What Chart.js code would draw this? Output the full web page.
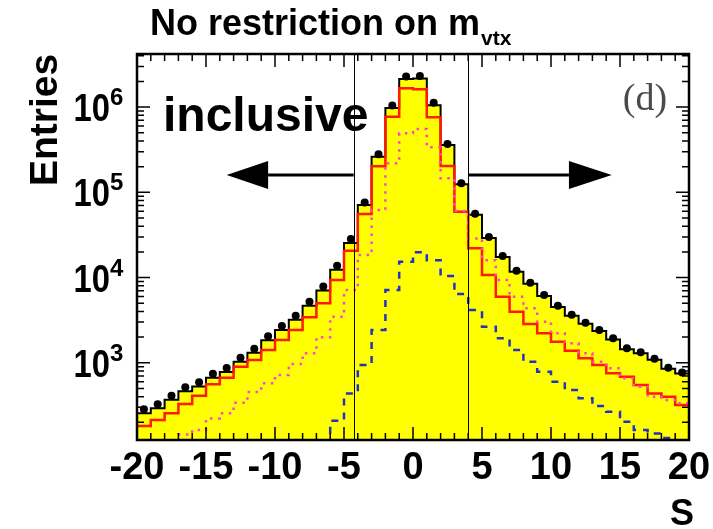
<!DOCTYPE html>
<html>
<head>
<meta charset="utf-8">
<script src="https://cdn.jsdelivr.net/npm/chart.js@4.4.1/dist/chart.umd.min.js"></script>
<style>
  html, body { margin: 0; padding: 0; background: #fff; }
  #wrap { width: 713px; height: 529px; }
</style>
</head>
<body>
<div id="wrap"><canvas id="sChart" width="713" height="529"></canvas></div>
<script>
// lower edges of the 1-unit S bins
const binLow = [-20, -19, -18, -17, -16, -15, -14, -13, -12, -11,
                -10, -9, -8, -7, -6, -5, -4, -3, -2, -1,
                0, 1, 2, 3, 4, 5, 6, 7, 8, 9,
                10, 11, 12, 13, 14, 15, 16, 17, 18, 19];

// measured entries (black points)
const dataEntries = [284, 326, 410, 515, 589, 745, 869, 1145, 1460, 2047,
                     2697, 3562, 5200, 7840, 13750, 28300, 75900, 280000, 1045000, 2290000,
                     2320000, 1127000, 369000, 127600, 56100, 29900, 17900, 12020, 8690, 6230,
                     4650, 3660, 2950, 2420, 1933, 1476, 1328, 1111, 874, 767];

// simulation, total (yellow)
const mcTotal = [255, 292, 368, 462, 528, 668, 780, 1027, 1310, 1836,
                 2420, 3195, 4665, 7030, 12330, 25400, 71000, 262000, 977000, 2140000,
                 2170000, 1054000, 359000, 124000, 54600, 29100, 17400, 11700, 8450, 6060,
                 4520, 3560, 2870, 2355, 1880, 1436, 1292, 1081, 850, 746];

// simulation components
const mcRed = [181, 213, 255, 327, 410, 558, 667, 898, 1076, 1410,
               1847, 2420, 3410, 4980, 9350, 20600, 55600, 202000, 771000, 1663000,
               1618000, 759000, 204000, 59200, 22000, 10700, 5950, 3970, 2845, 2213,
               1763, 1383, 1126, 940, 751, 685, 547, 437, 399, 319];

const mcDotted = [96, 108, 118, 144, 162, 222, 255, 339, 453, 573,
                  717, 966, 1290, 1987, 3467, 7130, 18370, 62000, 219000, 492000,
                  553000, 337000, 146000, 60400, 28800, 16000, 9350, 5950, 4350, 3030,
                  2213, 1690, 1290, 1027, 860, 656, 523, 399, 365, 334];

const mcDashed = [30, 33, 36, 40, 44, 48, 53, 58, 64, 70,
                  76, 83, 90, 98, 208, 437, 940, 2420, 7130, 15300,
                  19760, 16000, 10400, 6400, 4150, 2650, 1933, 1410, 1027, 784,
                  598, 478, 382, 310, 266, 203, 162, 148, 131, 108];

const xTicks = [-20, -15, -10, -5, 0, 5, 10, 15, 20];
const yDecades = [3, 4, 5, 6];
const cutValues = [-4.3, 4];

const FONT = "'Liberation Sans', Arial, Helvetica, sans-serif";

// histogram outline: one point per lower edge, plus the closing upper edge
function steps(vals) {
  const pts = binLow.map((x, i) => ({ x: x, y: vals[i] }));
  pts.push({ x: binLow[binLow.length - 1] + 1, y: vals[vals.length - 1] });
  return pts;
}

function arrow(ctx, x0, x1, xTip, yy) {
  ctx.lineWidth = 3;
  ctx.beginPath();
  ctx.moveTo(x0, yy);
  ctx.lineTo(x1, yy);
  ctx.stroke();
  ctx.beginPath();
  ctx.moveTo(xTip, yy);
  ctx.lineTo(x1, yy - 14);
  ctx.lineTo(x1, yy + 14);
  ctx.closePath();
  ctx.fill();
}

// text squeezed horizontally, anchored at its right edge
function narrowRight(ctx, txt, xr, yb, sx) {
  ctx.save();
  ctx.translate(xr, yb);
  ctx.scale(sx, 1);
  ctx.textAlign = 'right';
  ctx.fillText(txt, 0, 0);
  ctx.restore();
}

// ROOT-like frame, inner ticks, labels and annotations
const rootStyle = {
  id: 'rootStyle',
  afterDatasetsDraw(chart) {
    const { ctx, chartArea: a, scales: { x, y } } = chart;
    ctx.save();
    ctx.strokeStyle = '#000';
    ctx.fillStyle = '#000';
    ctx.lineWidth = 1;
    cutValues.forEach(c => {
      const px = Math.round(x.getPixelForValue(c)) + 0.5;
      ctx.beginPath();
      ctx.moveTo(px, a.top);
      ctx.lineTo(px, a.bottom);
      ctx.stroke();
    });
    const ay = y.getPixelForValue(1.6e5);
    arrow(ctx, x.getPixelForValue(cutValues[0]), x.getPixelForValue(-10.5), x.getPixelForValue(-13.5), ay);
    arrow(ctx, x.getPixelForValue(cutValues[1]), x.getPixelForValue(11.3), x.getPixelForValue(14.4), ay);
    ctx.restore();
  },
  afterDraw(chart) {
    const { ctx, chartArea: a, scales: { x, y } } = chart;
    ctx.save();
    ctx.strokeStyle = '#000';
    ctx.fillStyle = '#000';

    // ticks along bottom and top
    ctx.lineWidth = 1.5;
    for (let v = x.min; v <= x.max; v++) {
      const px = x.getPixelForValue(v);
      const len = (v % 5 === 0) ? 13 : 7;
      ctx.beginPath();
      ctx.moveTo(px, a.bottom); ctx.lineTo(px, a.bottom - len);
      ctx.moveTo(px, a.top); ctx.lineTo(px, a.top + len);
      ctx.stroke();
    }
    // log ticks on left and right
    for (let d = 2; d <= 6; d++) {
      for (let m = 1; m <= 9; m++) {
        const v = m * Math.pow(10, d);
        if (v < y.min || v > y.max) continue;
        const py = y.getPixelForValue(v);
        const len = (m === 1) ? 13 : 7;
        ctx.beginPath();
        ctx.moveTo(a.left, py); ctx.lineTo(a.left + len, py);
        ctx.moveTo(a.right, py); ctx.lineTo(a.right - len, py);
        ctx.stroke();
      }
    }

    // frame
    ctx.lineWidth = 2.5;
    ctx.strokeRect(a.left, a.top, a.right - a.left, a.bottom - a.top);

    // x tick labels
    ctx.font = 'bold 38px ' + FONT;
    ctx.textAlign = 'center';
    ctx.textBaseline = 'alphabetic';
    xTicks.forEach(v => ctx.fillText(String(v), x.getPixelForValue(v), 479));

    // y tick labels 10^n
    yDecades.forEach(d => {
      const py = y.getPixelForValue(Math.pow(10, d));
      ctx.font = 'bold 39px ' + FONT;
      narrowRight(ctx, '10', 110, py + 14, 0.84);
      ctx.font = 'bold 24px ' + FONT;
      ctx.textAlign = 'left';
      ctx.fillText(String(d), 110, py - 2);
    });

    // axis titles
    ctx.font = 'bold 36px ' + FONT;
    ctx.textAlign = 'right';
    ctx.fillText('S', 694, 525);

    ctx.save();
    ctx.translate(57, 120);
    ctx.rotate(-Math.PI / 2);
    ctx.font = 'bold 39px ' + FONT;
    ctx.textAlign = 'center';
    ctx.fillText('Entries', 0, 0);
    ctx.restore();

    // title with subscript
    ctx.textAlign = 'left';
    ctx.font = 'bold 36px ' + FONT;
    const t = 'No restriction on m';
    ctx.fillText(t, 150, 35);
    const tw = ctx.measureText(t).width;
    ctx.font = 'bold 21px ' + FONT;
    ctx.fillText('vtx', 150 + tw + 1, 45);

    // region label
    ctx.font = 'bold 48px ' + FONT;
    ctx.fillText('inclusive', 163, 131);

    // panel tag
    ctx.fillStyle = '#4a4a4a';
    ctx.font = '38px "Liberation Serif", "DejaVu Serif", serif';
    ctx.textAlign = 'center';
    ctx.fillText('(d)', 645, 110);

    ctx.restore();
  }
};

new Chart(document.getElementById('sChart'), {
  type: 'line',
  data: {
    datasets: [
      {
        label: 'Data',
        type: 'scatter',
        data: binLow.map((x, i) => ({ x: x + 0.5, y: dataEntries[i] })),
        showLine: false,
        pointRadius: 4,
        pointBackgroundColor: '#000',
        pointBorderWidth: 0,
        order: 0
      },
      {
        label: 'dashed',
        data: steps(mcDashed),
        stepped: true,
        borderColor: '#2233c4',
        borderWidth: 2.5,
        borderDash: [7, 7],
        pointRadius: 0,
        fill: false,
        order: 1
      },
      {
        label: 'dotted',
        data: steps(mcDotted),
        stepped: true,
        borderColor: '#ff44cc',
        borderWidth: 2.5,
        borderDash: [2.5, 5.5],
        pointRadius: 0,
        fill: false,
        order: 2
      },
      {
        label: 'red',
        data: steps(mcRed),
        stepped: true,
        borderColor: '#ff1a00',
        borderWidth: 2.5,
        pointRadius: 0,
        fill: false,
        order: 3
      },
      {
        label: 'total',
        data: steps(mcTotal),
        stepped: true,
        borderColor: '#000',
        borderWidth: 2,
        backgroundColor: '#ffff00',
        pointRadius: 0,
        fill: 'start',
        order: 4
      }
    ]
  },
  options: {
    responsive: false,
    animation: false,
    events: [],
    layout: { padding: { left: 137, right: 24, top: 54, bottom: 89 } },
    scales: {
      x: { type: 'linear', min: -20, max: 20, display: false },
      y: { type: 'logarithmic', min: 124, max: 4.2e6, display: false }
    },
    plugins: {
      legend: { display: false },
      tooltip: { enabled: false }
    }
  },
  plugins: [rootStyle]
});
</script>
</body>
</html>
